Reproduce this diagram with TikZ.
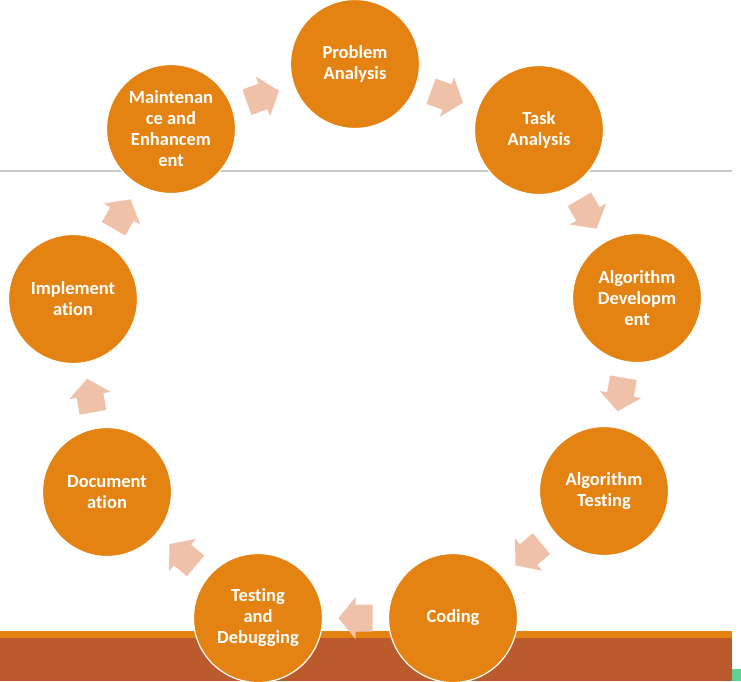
\documentclass[tikz,border=0pt]{standalone}
\usepackage{fontspec}
\setmainfont{Carlito}[Ligatures=NoCommon]
\usetikzlibrary{calc}
\definecolor{stageorange}{HTML}{E48312}
\definecolor{bandbrown}{HTML}{BB5A2C}
\definecolor{arrowpink}{HTML}{F0C1A9}
\definecolor{rulegray}{HTML}{C8C8C8}
\definecolor{cornergreen}{HTML}{63D093}
\tikzset{
  stage/.style={circle, fill=stageorange, draw=white, line width=1.2pt,
    minimum size=129pt, inner sep=0pt, text=white, align=center,
    font=\bfseries\fontsize{18.5}{21}\selectfont},
  blockarr/.pic={\fill[arrowpink] (-17,-13.5) -- (0,-13.5) -- (0,-21) -- (17,0)
      -- (0,21) -- (0,13.5) -- (-17,13.5) -- cycle;}
}
\newcommand\cyclearrow[2]{%
  \path let \p1=(#1), \p2=(#2), \n1={atan2(\y2-\y1,\x2-\x1)} in
    ($(#1)!0.5!(#2)$) pic[rotate=\n1]{blockarr};}
\begin{document}
\begin{tikzpicture}[x=1pt,y=1pt]
\useasboundingbox (0,0) rectangle (741,-681);
\fill[white] (0,0) rectangle (741,-681);
% background elements
\draw[rulegray, line width=1.5pt] (0,-171) -- (732,-171);
\fill[stageorange] (0,-631) rectangle (732,-638);
\fill[bandbrown] (0,-638) rectangle (732,-681);
\fill[cornergreen] (732,-669) rectangle (741,-681);
% stages
\node[stage] (P)  at (355,-64)  {Problem\\Analysis};
\node[stage] (T)  at (539,-130) {Task\\Analysis};
\node[stage] (AD) at (637,-298) {Algorithm\\Developm\\ent};
\node[stage] (AT) at (604,-491) {Algorithm\\Testing};
\node[stage] (C)  at (453,-618) {Coding};
\node[stage] (TD) at (258,-618) {Testing\\and\\Debugging};
\node[stage] (D)  at (107,-492) {Document\\ation};
\node[stage] (I)  at (73,-299)  {Implement\\ation};
\node[stage] (M)  at (171,-129) {Maintenan\\ce and\\Enhancem\\ent};
% arrows
\cyclearrow{M}{P}
\cyclearrow{P}{T}
\cyclearrow{T}{AD}
\cyclearrow{AD}{AT}
\cyclearrow{AT}{C}
\cyclearrow{C}{TD}
\cyclearrow{TD}{D}
\cyclearrow{D}{I}
\cyclearrow{I}{M}
\end{tikzpicture}
\end{document}
